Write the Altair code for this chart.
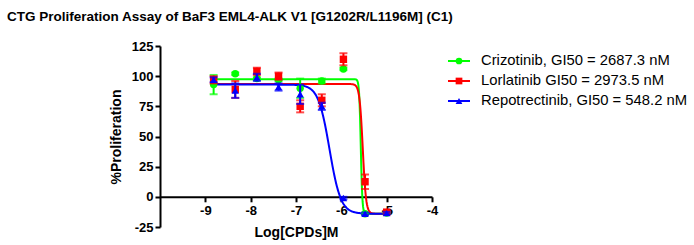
import altair as alt
import numpy as np
import pandas as pd

# ---------------- data ----------------
series = [
    "Crizotinib, GI50 = 2687.3 nM",
    "Lorlatinib GI50 = 2973.5 nM",
    "Repotrectinib, GI50 = 548.2 nM",
]
colors = ["#00FF00", "#FF0000", "#0000FF"]
point_shapes = ["circle", "square", "triangle-up"]

log_conc = [-8.817, -8.340, -7.863, -7.385, -6.908, -6.431, -5.954, -5.477, -5.000]

criz_mean = [93, 102, 98, 97, 90, 96, 106, -14, -13.5]
criz_sd = [8, 1, 1, 1, 8, 2, 1, 0.5, 0.5]
lorl_mean = [97, 89, 104, 100, 75, 80, 114, 12.5, -12.7]
lorl_sd = [3, 7, 3, 3, 5, 5, 5, 6, 1]
repo_mean = [97, 88, 99, 91, 85, 75, -1, -14, -13.5]
repo_sd = [2, 6, 3, 3, 8, 3, 1, 1, 1]

# fitted 4-parameter logistic curve parameters
fit_top = [97.5, 93.5, 93.0]
fit_bottom = [-14.0, -14.0, -14.0]
fit_log_gi50 = [-5.571, -5.527, -6.261]
fit_hill = [25.0, 12.0, 3.5]

x_ticks = [-9, -8, -7, -6, -5, -4]
y_ticks = [-25, 0, 25, 50, 75, 100, 125]

# ---------------- tables ----------------
means = [criz_mean, lorl_mean, repo_mean]
sds = [criz_sd, lorl_sd, repo_sd]
rows = []
for s, m, sd in zip(series, means, sds):
    for x, v, e in zip(log_conc, m, sd):
        rows.append({"drug": s, "x": x, "y": v, "lo": v - e, "hi": v + e})
pts = pd.DataFrame(rows)

curve_rows = []
xs = np.linspace(min(log_conc) - 0.03, max(log_conc), 400)
for s, t, b, g, h in zip(series, fit_top, fit_bottom, fit_log_gi50, fit_hill):
    for x in xs:
        curve_rows.append({"drug": s, "x": x, "y": b + (t - b) / (1 + 10 ** ((x - g) * h))})
curves = pd.DataFrame(curve_rows)

legend_df = pd.DataFrame({"drug": series})

FONT = "Liberation Sans"

# ---------------- encodings ----------------
xscale = alt.Scale(domain=[-10, -4], nice=False, zero=False)
yscale = alt.Scale(domain=[-25, 125], nice=False)
cscale = alt.Scale(domain=series, range=colors)

x_axis = alt.Axis(values=x_ticks, title="Log[CPDs]M", offset=-30.2,
                  labelExpr="'' + datum.value", titlePadding=8, labelPadding=3)
y_axis = alt.Axis(values=y_ticks, title="%Proliferation", titlePadding=8,
                  labelExpr="'' + datum.value", labelOverlap=False)

X = alt.X("x:Q", scale=xscale, axis=x_axis)
Y = alt.Y("y:Q", scale=yscale, axis=y_axis)
YLO = alt.Y("lo:Q", scale=yscale, axis=y_axis)
YHI = alt.Y("hi:Q", scale=yscale, axis=y_axis)
C = alt.Color("drug:N", scale=cscale, legend=None)

layers = []
line = alt.Chart(curves).mark_line(strokeWidth=2, clip=True).encode(x=X, y=Y, color=C, detail="drug:N")
layers.append(line)

for s, shp in zip(series, point_shapes):
    sub = pts[pts.drug == s]
    base = alt.Chart(sub)
    err = base.mark_rule(strokeWidth=2).encode(x=X, y=YLO, y2="hi:Q", color=C)
    cap_lo = base.mark_tick(orient="horizontal", size=8, thickness=2).encode(x=X, y=YLO, color=C)
    cap_hi = base.mark_tick(orient="horizontal", size=8, thickness=2).encode(x=X, y=YHI, color=C)
    pt = base.mark_point(shape=shp, filled=True, size=55, opacity=1).encode(x=X, y=Y, color=C)
    layers += [err, cap_lo, cap_hi, pt]

plot = alt.layer(*layers)

# ---------------- legend drawn as its own layer with its own scales ----------------
LX = alt.Scale(domain=[0, 1], range=[288, 310])
LY = alt.Y("drug:N", scale=alt.Scale(type="point", domain=series, range=[15, 55], padding=0), axis=None)
lbase = alt.Chart(legend_df)
leg_line = lbase.mark_rule(strokeWidth=2).encode(
    x=alt.X(datum=0, type="quantitative", scale=LX, axis=None),
    x2=alt.X2(datum=1), y=LY, color=C)
leg_pt = lbase.mark_point(filled=True, size=45, opacity=1).encode(
    x=alt.X(datum=0.5, type="quantitative", scale=LX, axis=None), y=LY, color=C,
    shape=alt.Shape("drug:N", scale=alt.Scale(domain=series, range=point_shapes), legend=None))
leg_txt = lbase.mark_text(align="left", baseline="middle", font=FONT, fontSize=14.8, color="black").encode(
    x=alt.X(datum=1.5, type="quantitative", scale=LX, axis=None), y=LY, text="drug:N")
legend = alt.layer(leg_line, leg_pt, leg_txt)

chart = alt.layer(plot, legend).resolve_scale(x="independent", y="independent").properties(
    width=272, height=181,
    title=alt.TitleParams(
        "CTG Proliferation Assay of BaF3 EML4-ALK V1 [G1202R/L1196M] (C1)",
        anchor="start", frame="group", dx=-153, dy=-13,
        font=FONT, fontSize=13.5, fontWeight="bold", color="black",
    ),
    autosize=alt.AutoSizeParams(type="none"),
    padding={"left": 160, "top": 46, "right": 262, "bottom": 18},
).configure_view(stroke=None).configure_axis(
    grid=False, domainColor="black", domainWidth=2, tickColor="black", tickWidth=2,
    tickSize=5, labelFont=FONT, labelFontWeight="bold", labelFontSize=13,
    labelColor="black", titleFont=FONT, titleFontWeight="bold",
    titleFontSize=14, titleColor="black", labelPadding=2, labelOverlap=False,
).configure_axisX(labelFlush=False)

chart.save("out.html", embed_options={"renderer": "svg", "actions": False})
